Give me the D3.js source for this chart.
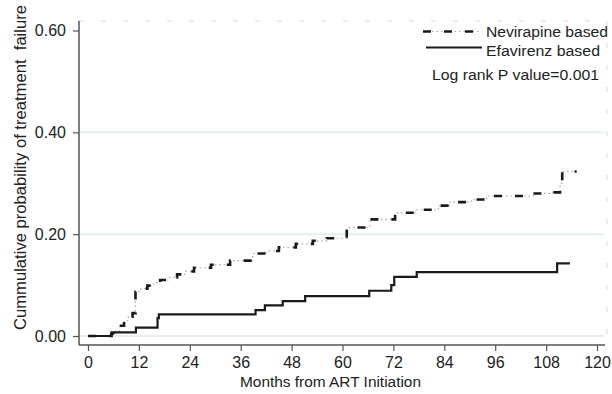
<!DOCTYPE html>
<html>
<head>
<meta charset="utf-8">
<script src="https://cdn.jsdelivr.net/npm/d3@7"></script>
<style>
  body { margin: 0; background: #fff; }
  text { font-family: "Liberation Sans", Arial, sans-serif; fill: #222; }
</style>
</head>
<body>
<div id="chart-wrapper"></div>
<script>
// Kaplan-Meier style cumulative failure steps (month, value after step)
const nevirapineTimes  = [0, 5.5, 6.5, 7.5, 8.5, 9.5, 10.5, 11.2, 12.5, 14, 15.5, 17, 19, 21, 23, 25, 29, 33.5, 38.8, 42, 45, 49, 53, 56.3, 61, 66.5, 72.4, 77.5, 82.6, 85.3, 90.4, 94, 105, 108.9, 111.3, 111.8, 115.2];
const nevirapineValues = [0, 0.005, 0.01, 0.02, 0.03, 0.038, 0.045, 0.087, 0.093, 0.099, 0.105, 0.11, 0.115, 0.121, 0.127, 0.134, 0.14, 0.148, 0.162, 0.167, 0.174, 0.181, 0.187, 0.192, 0.213, 0.229, 0.242, 0.248, 0.256, 0.263, 0.268, 0.275, 0.28, 0.282, 0.30, 0.323, 0.323];

const efavirenzTimes  = [0, 5.6, 11.3, 16.4, 16.7, 39.5, 41.7, 45.9, 51.2, 66.3, 71.5, 72.2, 77.5, 110.6, 113.6];
const efavirenzValues = [0, 0.0073, 0.0163, 0.035, 0.0425, 0.051, 0.06, 0.0686, 0.0784, 0.0889, 0.10, 0.116, 0.1255, 0.1425, 0.1425];

const xTicks = [0, 12, 24, 36, 48, 60, 72, 84, 96, 108, 120];
const yTicks = [0, 0.2, 0.4, 0.6];
const gridValues = [0, 0.2, 0.4];

const seriesNames = ["Nevirapine based", "Efavirenz based"];
const seriesLabelWidths = [122, 114];
const noteText = "Log rank P value=0.001";

const width = 612, height = 394;
const plotLeft = 79, plotRight = 607, plotTop = 21, plotBottom = 345;

const xScale = d3.scaleLinear().domain([0, 120]).range([88, 597]);
const yScale = d3.scaleLinear().domain([0, 0.6]).range([336, 30.5]);

const svg = d3.select("#chart-wrapper")
  .append("svg")
  .attr("width", width)
  .attr("height", height);

// faint plot region border (top and right)
svg.append("path")
  .attr("d", `M${plotLeft},${plotTop}H${plotRight}V${plotBottom}`)
  .attr("fill", "none")
  .attr("stroke", "#dfe9ec")
  .attr("stroke-width", 1.5)
  .attr("stroke-dasharray", "5,17");

// gridlines
svg.append("g")
  .selectAll("line")
  .data(gridValues)
  .join("line")
  .attr("x1", plotLeft + 1)
  .attr("x2", plotRight - 3)
  .attr("y1", d => yScale(d))
  .attr("y2", d => yScale(d))
  .attr("stroke", "#e6eff2")
  .attr("stroke-width", 2);

// axes
const yAxis = d3.axisLeft(yScale)
  .tickValues(yTicks)
  .tickFormat(d3.format(".2f"))
  .tickSize(6)
  .tickPadding(7);
const yAxisG = svg.append("g")
  .attr("transform", `translate(${plotLeft},0)`)
  .call(yAxis);
yAxisG.select(".domain").attr("d", `M0,${plotTop}V${plotBottom}`);

const xAxis = d3.axisBottom(xScale)
  .tickValues(xTicks)
  .tickFormat(d3.format("d"))
  .tickSize(6)
  .tickPadding(6);
const xAxisG = svg.append("g")
  .attr("transform", `translate(0,${plotBottom})`)
  .call(xAxis);
xAxisG.select(".domain").attr("d", `M${plotLeft},0H${plotRight - 2}`);

[yAxisG, xAxisG].forEach(g => {
  g.select(".domain").attr("stroke", "#555").attr("stroke-width", 1.5);
  g.selectAll(".tick line").attr("stroke", "#555").attr("stroke-width", 1.2);
  g.selectAll(".tick text")
    .attr("font-size", 16)
    .attr("fill", "#222")
    .style("font-family", "'Liberation Sans', Arial, sans-serif");
});

// axis titles
svg.append("text")
  .attr("transform", `translate(26,${(plotTop + plotBottom) / 2 - 15.5}) rotate(-90)`)
  .attr("text-anchor", "middle")
  .attr("font-size", 16)
  .attr("textLength", 325)
  .attr("lengthAdjust", "spacingAndGlyphs")
  .text("Cummulative probability of treatment\u00a0 failure");

svg.append("text")
  .attr("x", 330.5)
  .attr("y", 387)
  .attr("text-anchor", "middle")
  .attr("font-size", 15.5)
  .attr("textLength", 181)
  .attr("lengthAdjust", "spacingAndGlyphs")
  .text("Months from ART Initiation");

// step lines
const lineGen = d3.line()
  .x(d => xScale(d[0]))
  .y(d => yScale(d[1]))
  .curve(d3.curveStepAfter);

const nevData = nevirapineTimes.map((t, i) => [t, nevirapineValues[i]]);
const efaData = efavirenzTimes.map((t, i) => [t, efavirenzValues[i]]);

const linesWrapper = svg.append("g").classed("lines", true);

// dash-dot: faint dots underneath, heavy dashes on top
linesWrapper.append("path")
  .attr("d", lineGen(nevData))
  .attr("fill", "none")
  .attr("stroke", "#a8a8a8")
  .attr("stroke-width", 1.2)
  .attr("stroke-dasharray", "1.5,3");
linesWrapper.append("path")
  .attr("d", lineGen(nevData))
  .attr("fill", "none")
  .attr("stroke", "#1a1a1a")
  .attr("stroke-width", 2.6)
  .attr("stroke-dasharray", "8,13");

linesWrapper.append("path")
  .attr("d", lineGen(efaData))
  .attr("fill", "none")
  .attr("stroke", "#1a1a1a")
  .attr("stroke-width", 2.2);

// legend
const legend = svg.append("g").classed("legend", true);
legend.append("line")
  .attr("x1", 423).attr("x2", 481).attr("y1", 31.5).attr("y2", 31.5)
  .attr("stroke", "#a8a8a8").attr("stroke-width", 1.2).attr("stroke-dasharray", "1.5,3");
legend.append("line")
  .attr("x1", 423).attr("x2", 481).attr("y1", 31.5).attr("y2", 31.5)
  .attr("stroke", "#1a1a1a").attr("stroke-width", 2.6).attr("stroke-dasharray", "8,13");
legend.append("line")
  .attr("x1", 426).attr("x2", 482).attr("y1", 47.5).attr("y2", 47.5)
  .attr("stroke", "#1a1a1a").attr("stroke-width", 2.2);

legend.selectAll("text.series")
  .data(seriesNames)
  .join("text")
  .classed("series", true)
  .attr("x", 486)
  .attr("y", (d, i) => 36.5 + i * 19)
  .attr("font-size", 15.5)
  .attr("textLength", (d, i) => seriesLabelWidths[i])
  .attr("lengthAdjust", "spacingAndGlyphs")
  .text(d => d);

legend.append("text")
  .attr("x", 432)
  .attr("y", 80)
  .attr("font-size", 15.5)
  .attr("textLength", 167)
  .attr("lengthAdjust", "spacingAndGlyphs")
  .text(noteText);
</script>
</body>
</html>
